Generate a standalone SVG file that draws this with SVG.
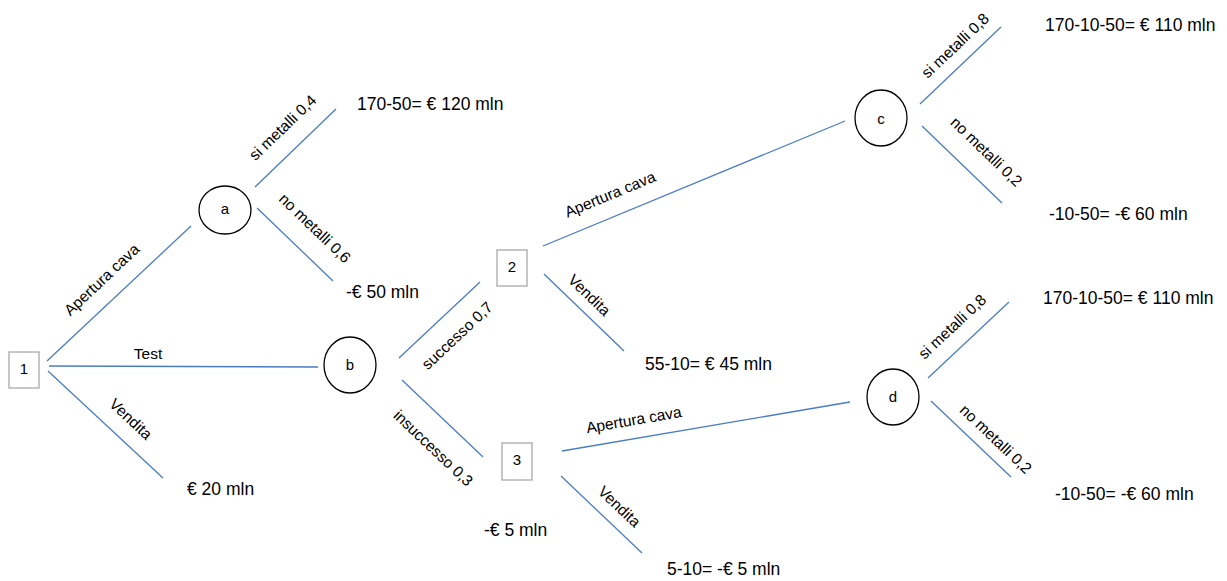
<svg xmlns="http://www.w3.org/2000/svg" width="1227" height="581" viewBox="0 0 1227 581">
  <style>
    .edge { stroke: #4A7CC4; stroke-width: 1.3; fill: none; }
    .dec { fill: #FFFFFF; stroke: #B4B4B4; stroke-width: 1.5; }
    .chance { fill: #FFFFFF; stroke: #000000; stroke-width: 1.3; }
    .nid { font-family: "Liberation Sans", Arial, sans-serif; font-size: 15px; fill: #000; text-anchor: middle; dominant-baseline: middle; }
    .lbl { font-family: "Liberation Sans", Arial, sans-serif; font-size: 15.5px; fill: #000; text-anchor: middle; dominant-baseline: middle; }
    .val { font-family: "Liberation Sans", Arial, sans-serif; font-size: 17.5px; fill: #000; }
  </style>
  <rect width="1227" height="581" fill="#FFFFFF"/>

  <!-- branches -->
  <g id="connectors">
    <line class="edge" x1="47" y1="361" x2="191" y2="226"/>
    <line class="edge" x1="49" y1="366" x2="318" y2="367"/>
    <line class="edge" x1="48" y1="371" x2="163" y2="478"/>
    <line class="edge" x1="255" y1="187" x2="336" y2="109"/>
    <line class="edge" x1="257" y1="208" x2="333" y2="281"/>
    <line class="edge" x1="399" y1="358" x2="480" y2="282"/>
    <line class="edge" x1="402" y1="380" x2="483" y2="457"/>
    <line class="edge" x1="543" y1="246" x2="845" y2="121"/>
    <line class="edge" x1="544" y1="274" x2="624" y2="351"/>
    <line class="edge" x1="562" y1="451" x2="850" y2="402"/>
    <line class="edge" x1="561" y1="476" x2="642" y2="553"/>
    <line class="edge" x1="920" y1="104" x2="1001" y2="27"/>
    <line class="edge" x1="922" y1="126" x2="1002" y2="203"/>
    <line class="edge" x1="928" y1="378" x2="1009" y2="302"/>
    <line class="edge" x1="931" y1="401" x2="1011" y2="477"/>

    <!-- branch labels -->
    <text class="lbl" transform="translate(102.5,280.5) rotate(-43.2)">Apertura cava</text>
    <text class="lbl" x="148" y="355">Test</text>
    <text class="lbl" transform="translate(130,420) rotate(43)">Vendita</text>
    <text class="lbl" transform="translate(283.5,128.5) rotate(-43.9)">si metalli 0,4</text>
    <text class="lbl" transform="translate(314,229) rotate(43.8)">no metalli 0,6</text>
    <text class="lbl" transform="translate(458,336.5) rotate(-43.2)">successo 0,7</text>
    <text class="lbl" transform="translate(432.5,449) rotate(43.5)">insuccesso 0,3</text>
    <text class="lbl" transform="translate(610.5,195.5) rotate(-22.5)">Apertura cava</text>
    <text class="lbl" transform="translate(588.5,296) rotate(43.9)">Vendita</text>
    <text class="lbl" transform="translate(634,421) rotate(-9.7)">Apertura cava</text>
    <text class="lbl" transform="translate(618.5,507.5) rotate(43.5)">Vendita</text>
    <text class="lbl" transform="translate(956,46.5) rotate(-43.5)">si metalli 0,8</text>
    <text class="lbl" transform="translate(985.5,152.5) rotate(43.9)">no metalli 0,2</text>
    <text class="lbl" transform="translate(953,327.5) rotate(-43.2)">si metalli 0,8</text>
    <text class="lbl" transform="translate(995,440) rotate(43.5)">no metalli 0,2</text>
  </g>

  <!-- decision nodes -->
  <g id="node-1">
    <rect class="dec" x="9" y="352" width="30" height="36"/>
    <text class="nid" x="24" y="370">1</text>
  </g>
  <g id="node-2">
    <rect class="dec" x="497" y="250" width="30" height="36"/>
    <text class="nid" x="512" y="268">2</text>
  </g>
  <g id="node-3">
    <rect class="dec" x="502" y="443" width="30" height="37"/>
    <text class="nid" x="517" y="461.5">3</text>
  </g>

  <!-- chance nodes -->
  <g id="node-a">
    <ellipse class="chance" cx="225" cy="210" rx="26" ry="24"/>
    <text class="nid" x="225" y="210">a</text>
  </g>
  <g id="node-b">
    <ellipse class="chance" cx="350" cy="365" rx="26" ry="28"/>
    <text class="nid" x="350" y="366">b</text>
  </g>
  <g id="node-c">
    <ellipse class="chance" cx="881" cy="118" rx="26" ry="28"/>
    <text class="nid" x="881" y="120">c</text>
  </g>
  <g id="node-d">
    <ellipse class="chance" cx="893" cy="397" rx="26" ry="28"/>
    <text class="nid" x="893" y="398">d</text>
  </g>

  <!-- payoffs -->
  <g id="payoffs">
    <text class="val" x="357" y="110">170-50= € 120 mln</text>
    <text class="val" x="346" y="298">-€ 50 mln</text>
    <text class="val" x="187" y="495">€ 20 mln</text>
    <text class="val" x="484" y="536">-€ 5 mln</text>
    <text class="val" x="645" y="370">55-10= € 45 mln</text>
    <text class="val" x="667" y="575">5-10= -€ 5 mln</text>
    <text class="val" x="1045" y="31">170-10-50= € 110 mln</text>
    <text class="val" x="1049" y="220">-10-50= -€ 60 mln</text>
    <text class="val" x="1043" y="304">170-10-50= € 110 mln</text>
    <text class="val" x="1055" y="500">-10-50= -€ 60 mln</text>
  </g>
</svg>
